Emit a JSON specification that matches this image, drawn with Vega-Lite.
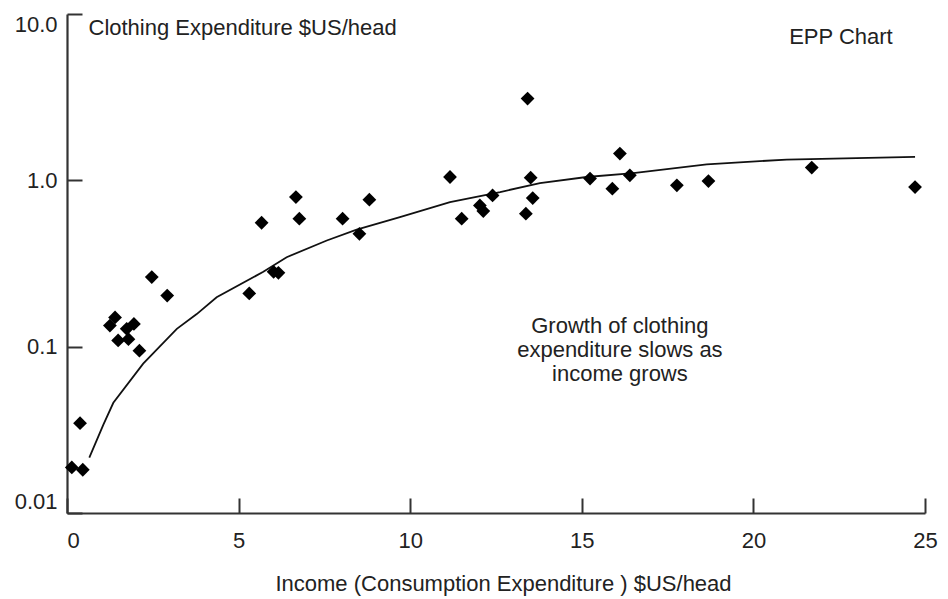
{
  "$schema": "https://vega.github.io/schema/vega-lite/v6.json",
  "width": 858,
  "height": 499,
  "autosize": {"type": "none"},
  "padding": {"left": 67, "top": 14, "right": 23, "bottom": 86},
  "background": "white",
  "config": {
    "view": {"stroke": null},
    "font": "Liberation Sans",
    "axis": {
      "grid": false,
      "domainColor": "#333333",
      "domainWidth": 2.2,
      "tickColor": "#333333",
      "tickWidth": 2,
      "tickSize": -15,
      "labelFont": "Liberation Sans",
      "labelFontSize": 22,
      "labelColor": "#222222",
      "titleFont": "Liberation Sans",
      "titleFontSize": 22,
      "titleFontWeight": "normal",
      "titleColor": "#222222"
    }
  },
  "datasets": {
    "countries": [
      {"income": 2.47, "clothing": 0.262},
      {"income": 2.92, "clothing": 0.203},
      {"income": 1.40, "clothing": 0.150},
      {"income": 1.25, "clothing": 0.134},
      {"income": 1.95, "clothing": 0.137},
      {"income": 1.74, "clothing": 0.128},
      {"income": 1.49, "clothing": 0.109},
      {"income": 1.79, "clothing": 0.111},
      {"income": 2.11, "clothing": 0.0946},
      {"income": 0.38, "clothing": 0.0347},
      {"income": 0.14, "clothing": 0.0188},
      {"income": 0.46, "clothing": 0.0182},
      {"income": 6.67, "clothing": 0.793},
      {"income": 8.81, "clothing": 0.765},
      {"income": 5.67, "clothing": 0.556},
      {"income": 6.77, "clothing": 0.588},
      {"income": 8.03, "clothing": 0.588},
      {"income": 8.52, "clothing": 0.477},
      {"income": 6.02, "clothing": 0.282},
      {"income": 6.16, "clothing": 0.278},
      {"income": 5.31, "clothing": 0.209},
      {"income": 13.42, "clothing": 3.10},
      {"income": 11.16, "clothing": 1.047},
      {"income": 13.51, "clothing": 1.038},
      {"income": 16.11, "clothing": 1.448},
      {"income": 15.24, "clothing": 1.024},
      {"income": 16.40, "clothing": 1.072},
      {"income": 15.89, "clothing": 0.891},
      {"income": 12.40, "clothing": 0.812},
      {"income": 12.03, "clothing": 0.707},
      {"income": 12.13, "clothing": 0.653},
      {"income": 13.57, "clothing": 0.782},
      {"income": 11.50, "clothing": 0.588},
      {"income": 13.37, "clothing": 0.630},
      {"income": 17.77, "clothing": 0.933},
      {"income": 18.69, "clothing": 0.990},
      {"income": 21.70, "clothing": 1.193},
      {"income": 24.71, "clothing": 0.911}
    ],
    "fitted": [
      {"income": 0.65, "clothing": 0.0215},
      {"income": 1.06, "clothing": 0.034},
      {"income": 1.35, "clothing": 0.046},
      {"income": 2.22, "clothing": 0.079},
      {"income": 3.20, "clothing": 0.128},
      {"income": 3.78, "clothing": 0.157},
      {"income": 4.36, "clothing": 0.198},
      {"income": 5.72, "clothing": 0.282},
      {"income": 6.40, "clothing": 0.345},
      {"income": 7.57, "clothing": 0.435},
      {"income": 8.44, "clothing": 0.505},
      {"income": 9.70, "clothing": 0.601},
      {"income": 11.16, "clothing": 0.740},
      {"income": 12.62, "clothing": 0.850},
      {"income": 13.78, "clothing": 0.963},
      {"income": 15.14, "clothing": 1.047},
      {"income": 16.50, "clothing": 1.106},
      {"income": 18.64, "clothing": 1.249},
      {"income": 20.97, "clothing": 1.333},
      {"income": 24.71, "clothing": 1.382}
    ]
  },
  "layer": [
    {
      "data": {"name": "fitted"},
      "mark": {"type": "line", "color": "#111111", "strokeWidth": 1.8},
      "encoding": {
        "x": {
          "field": "income",
          "type": "quantitative",
          "scale": {"domain": [0, 25], "nice": false, "zero": false},
          "axis": {
            "values": [0, 5, 10, 15, 20, 25],
            "labelPadding": 32,
            "labelAlign": {"condition": {"test": "datum.value == 0", "value": "left"}, "value": "center"},
            "title": "Income (Consumption Expenditure ) $US/head",
            "titleX": 436,
            "titleY": 70,
            "titleAlign": "center",
            "titleBaseline": "middle"
          }
        },
        "y": {
          "field": "clothing",
          "type": "quantitative",
          "scale": {"type": "log", "domain": [0.01, 10], "nice": false},
          "axis": {
            "values": [0.01, 0.1, 1, 10],
            "labelPadding": 25,
            "labelFlush": true,
            "labelExpr": "datum.value == 10 ? '10.0' : datum.value == 1 ? '1.0' : datum.value == 0.1 ? '0.1' : '0.01'",
            "title": "Clothing Expenditure $US/head",
            "titleAngle": 0,
            "titleX": 21,
            "titleY": 13,
            "titleAlign": "left",
            "titleBaseline": "middle"
          }
        }
      }
    },
    {
      "data": {"name": "countries"},
      "mark": {"type": "point", "shape": "diamond", "filled": true, "color": "#000000", "size": 190, "opacity": 1, "strokeWidth": 0},
      "encoding": {
        "x": {"field": "income", "type": "quantitative"},
        "y": {"field": "clothing", "type": "quantitative"}
      }
    },
    {
      "data": {"values": [{"note": "EPP Chart", "income": 22.55, "clothing": 7.27}]},
      "mark": {"type": "text", "font": "Liberation Sans", "fontSize": 22, "color": "#222222", "align": "center", "baseline": "middle"},
      "encoding": {
        "x": {"field": "income", "type": "quantitative"},
        "y": {"field": "clothing", "type": "quantitative"},
        "text": {"field": "note"}
      }
    },
    {
      "data": {"values": [{"income": 16.11, "clothing": 0.1338}]},
      "mark": {
        "type": "text",
        "text": ["Growth of clothing", "expenditure slows as", "income grows"],
        "font": "Liberation Sans",
        "fontSize": 22,
        "lineHeight": 24,
        "color": "#222222",
        "align": "center",
        "baseline": "middle"
      },
      "encoding": {
        "x": {"field": "income", "type": "quantitative"},
        "y": {"field": "clothing", "type": "quantitative"}
      }
    }
  ]
}
